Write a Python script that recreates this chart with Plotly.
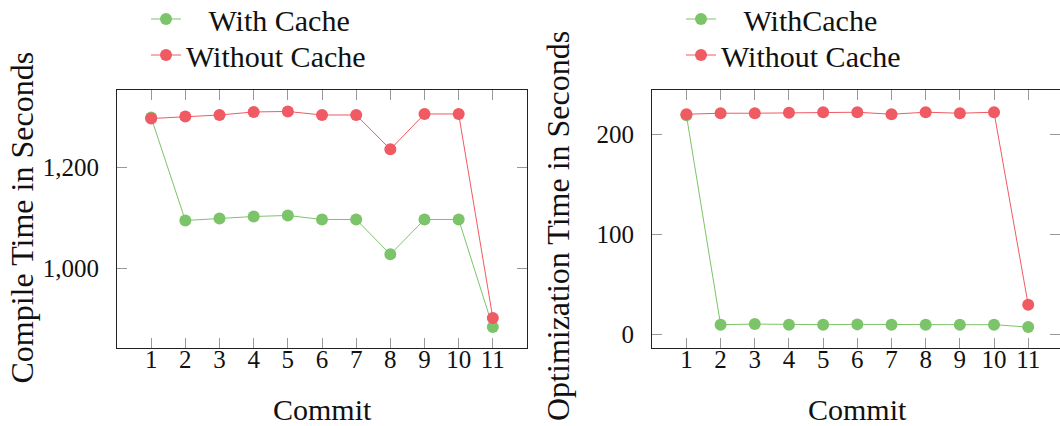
import plotly.graph_objects as go

commits = [1, 2, 3, 4, 5, 6, 7, 8, 9, 10, 11]

compile_with_cache = [1299, 1095, 1099, 1103, 1105, 1097, 1097, 1028, 1097, 1097, 884]
compile_without_cache = [1297, 1301, 1304, 1310, 1311, 1304, 1304, 1236, 1306, 1306, 902]

opt_with_cache = [219, 9.7, 10.3, 9.7, 9.7, 10, 9.7, 9.7, 9.7, 9.7, 7.3]
opt_without_cache = [220, 221, 221, 221.5, 222, 222, 220, 222, 221, 222, 29.6]

left_legend_names = ["\u00a0\u00a0\u00a0With Cache", "Without Cache"]
right_legend_names = ["\u00a0\u00a0\u00a0WithCache", "Without Cache"]

left_yticks = [1000, 1200]
right_yticks = [0, 100, 200]

GREEN = "#7cc46a"
RED = "#f05a62"
FONT = "Liberation Serif"
W, H = 1060, 426

fig = go.Figure()

def add(x, y, color, name, xa, ya, legend):
    fig.add_trace(go.Scatter(
        x=x, y=y, mode="lines+markers", name=name, showlegend=True,
        line=dict(color=color, width=1),
        marker=dict(color=color, size=12),
        xaxis=xa, yaxis=ya, legend=legend,
    ))

add(commits, compile_with_cache, GREEN, left_legend_names[0], "x", "y", "legend")
add(commits, compile_without_cache, RED, left_legend_names[1], "x", "y", "legend2")
add(commits, opt_with_cache, GREEN, right_legend_names[0], "x2", "y2", "legend3")
add(commits, opt_without_cache, RED, right_legend_names[1], "x2", "y2", "legend4")

# transparent carriers so the tick-label axes (x3, x4) get drawn
for xa, ya, yv in (("x3", "y", compile_with_cache), ("x4", "y2", opt_with_cache)):
    fig.add_trace(go.Scatter(
        x=commits, y=yv, mode="markers", showlegend=False, hoverinfo="skip",
        marker=dict(opacity=0, size=1), xaxis=xa, yaxis=ya,
    ))

ydom = [(H - 348) / H, (H - 90) / H]

tick_font = dict(family=FONT, size=25, color="#111")
axis_common = dict(
    showline=True, linecolor="#222", linewidth=1, mirror="ticks",
    ticks="inside", ticklen=10, tickcolor="#999", tickwidth=1,
    showgrid=False, zeroline=False, tickfont=tick_font,
)
label_axis = dict(
    showline=False, ticks="", showgrid=False, zeroline=False,
    tickfont=tick_font, anchor="free", position=(H - 342) / H,
)

def leg(xpx, center_px):
    return dict(x=xpx / W, y=(H - center_px) / H, xanchor="left", yanchor="middle",
                font=dict(family=FONT, size=30, color="#111"),
                bgcolor="rgba(0,0,0,0)", tracegroupgap=0, itemwidth=30)

title_font = dict(family=FONT, size=30, color="#111")
ytitle_font = dict(family=FONT, size=32, color="#111")

fig.update_layout(
    width=W, height=H,
    margin=dict(l=0, r=0, t=0, b=0, autoexpand=False),
    paper_bgcolor="white", plot_bgcolor="white",
    font=dict(family=FONT, color="#111"),
    showlegend=True,
    xaxis=dict(domain=[117 / W, 527 / W], range=[0, 12], tickvals=commits,
               showticklabels=False, anchor="y", **axis_common),
    yaxis=dict(domain=ydom, range=[842.5, 1353.5], tickvals=left_yticks,
               tickformat=",d", anchor="x", ticklabelstandoff=12, **axis_common),
    xaxis2=dict(domain=[652 / W, 1.0], range=[-0.007, 11.93], tickvals=commits,
                showticklabels=False, anchor="y2", **axis_common),
    yaxis2=dict(domain=ydom, range=[-13.6, 244.2], tickvals=right_yticks,
                anchor="x2", ticklabelstandoff=12, **axis_common),
    xaxis3=dict(overlaying="x", range=[0, 12], tickvals=commits, **label_axis),
    xaxis4=dict(overlaying="x2", range=[-0.007, 11.93], tickvals=commits, **label_axis),
    legend=leg(146, 19),
    legend2=leg(146, 55),
    legend3=leg(681, 19),
    legend4=leg(681, 55),
    annotations=[
        dict(text="Commit", x=322 / W, y=(H - 409) / H, xref="paper", yref="paper",
             showarrow=False, font=title_font, xanchor="center", yanchor="middle"),
        dict(text="Commit", x=857 / W, y=(H - 409) / H, xref="paper", yref="paper",
             showarrow=False, font=title_font, xanchor="center", yanchor="middle"),
        dict(text="Compile Time in Seconds", x=21.5 / W, y=(H - 218) / H,
             xref="paper", yref="paper", showarrow=False, textangle=-90,
             font=ytitle_font, xanchor="center", yanchor="middle"),
        dict(text="Optimization Time in Seconds", x=558 / W, y=(H - 226) / H,
             xref="paper", yref="paper", showarrow=False, textangle=-90,
             font=ytitle_font, xanchor="center", yanchor="middle"),
    ],
)

fig.write_html("out.html")
